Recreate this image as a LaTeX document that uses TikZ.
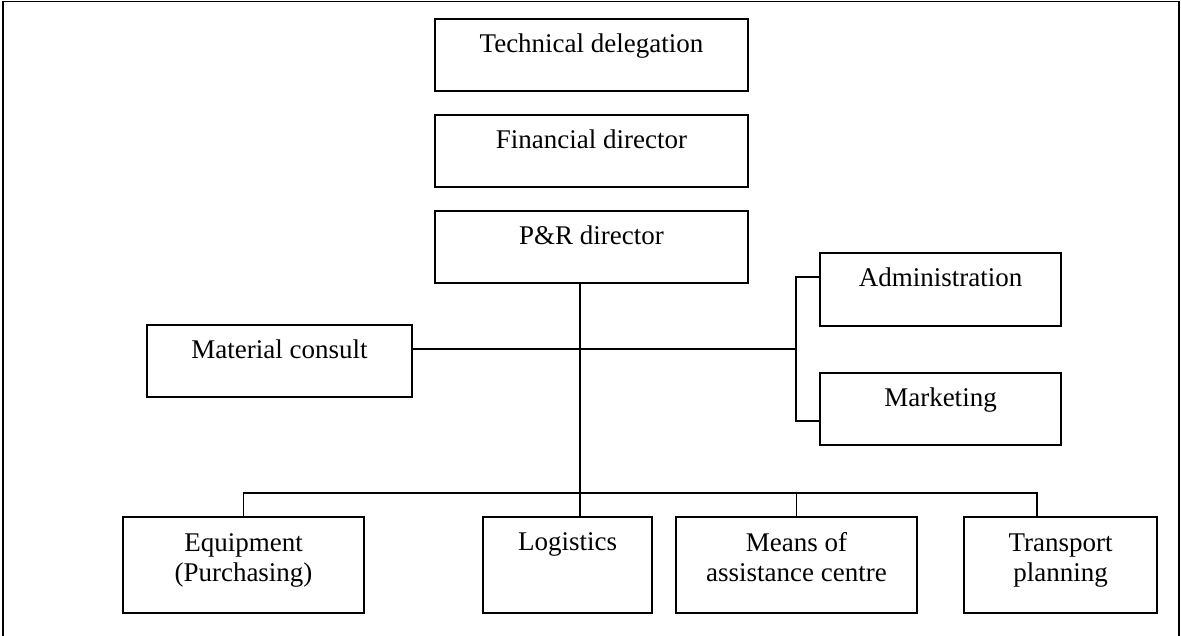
\documentclass[tikz,border=0pt]{standalone}
\usepackage{fontspec}
\setmainfont{Liberation Serif}
\usetikzlibrary{calc}
\begin{document}
\begin{tikzpicture}[x=1pt,y=-1pt,
  line width=1.8pt,
  box/.style={draw, rectangle, inner sep=0pt, minimum height=72pt},
  txt/.style={inner sep=0pt, anchor=base, align=center, font=\fontsize{27}{30}\selectfont},
  conn/.style={draw, line width=1.8pt}]
\useasboundingbox (0,0) rectangle (1181,636);
% frame
\draw (3,636) -- (3,1.5) -- (1179,1.5) -- (1179,636);
% boxes
\node[box, minimum width=313pt] (tech) at (591.5,55) {};
\node[box, minimum width=313pt] (fin) at (591.5,151) {};
\node[box, minimum width=313pt] (pr) at (591.5,247) {};
\node[box, minimum width=265pt] (mat) at (279.5,361) {};
\node[box, minimum width=241pt, minimum height=73pt] (adm) at (940.5,289.5) {};
\node[box, minimum width=241pt] (mkt) at (940.5,409) {};
\node[box, minimum width=241pt, minimum height=96pt] (equip) at (243.5,565) {};
\node[box, minimum width=169pt, minimum height=96pt] (log) at (567.5,565) {};
\node[box, minimum width=241pt, minimum height=96pt] (means) at (796.5,565) {};
\node[box, minimum width=193pt, minimum height=96pt] (trans) at (1060.5,565) {};
% texts
\node[txt] (ttech) at ($(tech.north)+(0,34)$) {Technical delegation};
\node[txt] (tfin) at ($(fin.north)+(0,34)$) {Financial director};
\node[txt] (tpr) at ($(pr.north)+(0,34)$) {P\&R director};
\node[txt] (tmat) at ($(mat.north)+(0,34)$) {Material consult};
\node[txt] (tadm) at ($(adm.north)+(0,34)$) {Administration};
\node[txt] (tmkt) at ($(mkt.north)+(0,34)$) {Marketing};
\node[txt] (tequip) at ($(equip.north)+(0,65)$) {Equipment\\(Purchasing)};
\node[txt] (tlog) at ($(log.north)+(0,34)$) {Logistics};
\node[txt] (tmeans) at ($(means.north)+(0,65)$) {Means of\\assistance centre};
\node[txt] (ttrans) at ($(trans.north)+(0,65)$) {Transport\\planning};
% connector helper coordinates
\coordinate (trunk) at (580,0);
\coordinate (brk) at (796,0);
\coordinate (busy) at (0,493);
\coordinate (matline) at (0,349);
\coordinate (admline) at (0,277);
\coordinate (mktline) at (0,421);
\coordinate (transx) at (1037,0);
% trunk
\draw[conn] (pr.south -| trunk) -- (log.north -| trunk);
% horizontal line from material consult to bracket
\draw[conn] (mat.east |- matline) -- (brk |- matline);
% bracket to administration and marketing
\draw[conn] (adm.west |- admline) -- (brk |- admline) -- (brk |- mktline) -- (mkt.west |- mktline);
% bus
\draw[conn] (equip.north) -- (equip.north |- busy) -- (transx |- busy) -- (trans.north -| transx);
\draw[conn] (means.north) -- (means.north |- busy);
\end{tikzpicture}
\end{document}
